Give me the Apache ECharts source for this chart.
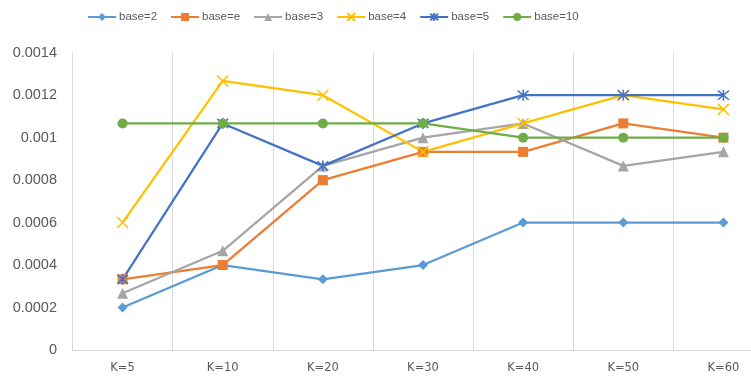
<!DOCTYPE html>
<html>
<head>
<meta charset="utf-8">
<script src="https://cdn.jsdelivr.net/npm/echarts@6/dist/echarts.min.js"></script>
<style>
  html, body { margin: 0; padding: 0; background: #fff; overflow: hidden; }
  /* the canvas is wider than the page so the last column runs off the right edge */
  #chart { width: 800px; height: 378px; }
</style>
</head>
<body>
<div id="chart"></div>
<script>
// Categories along the x axis
const categories = ['K=5', 'K=10', 'K=20', 'K=30', 'K=40', 'K=50', 'K=60'];

// One array per logarithm base
const base2  = [0.0002,   0.0004,   0.000333, 0.0004,   0.0006,   0.0006,   0.0006];
const baseE  = [0.000333, 0.0004,   0.0008,   0.000933, 0.000933, 0.001067, 0.001];
const base3  = [0.000267, 0.000467, 0.000867, 0.001,    0.001067, 0.000867, 0.000933];
const base4  = [0.0006,   0.001267, 0.0012,   0.000933, 0.001067, 0.0012,   0.001133];
const base5  = [0.000333, 0.001067, 0.000867, 0.001067, 0.0012,   0.0012,   0.0012];
const base10 = [0.001067, 0.001067, 0.001067, 0.001067, 0.001,    0.001,    0.001];

// Y axis ticks
const yTicks = [0, 0.0002, 0.0004, 0.0006, 0.0008, 0.001, 0.0012, 0.0014];

const crossPath = 'path://M0,0L10,10M10,0L0,10';
const starPath  = 'path://M0,0L10,10M10,0L0,10M5,-1L5,11';

function makeSeries(name, data, color, symbol, size, stroked) {
  return {
    name: name,
    type: 'line',
    data: data,
    symbol: symbol,
    symbolSize: size,
    showAllSymbol: true,
    lineStyle: { color: color, width: 2.25 },
    itemStyle: stroked
      ? { color: 'rgba(0,0,0,0)', borderColor: color, borderWidth: 1.5 }
      : { color: color, borderColor: color, borderWidth: 0 },
    emphasis: { disabled: true },
    animation: false
  };
}

const chart = echarts.init(document.getElementById('chart'), null, { renderer: 'canvas' });

chart.setOption({
  backgroundColor: '#ffffff',
  animation: false,
  legend: {
    left: 87,
    top: 11,
    padding: 0,
    itemWidth: 28,
    itemHeight: 10,
    itemGap: 13,
    textStyle: {
      fontFamily: '"Liberation Sans", sans-serif',
      fontSize: 11.5,
      color: '#595959',
      padding: [0, 0, 0, -2]
    },
    data: ['base=2', 'base=e', 'base=3', 'base=4', 'base=5', 'base=10']
  },
  grid: {
    left: 72.5,
    width: 701,
    top: 52.7,
    bottom: 28,
    containLabel: false,
    outerBoundsMode: 'none'
  },
  xAxis: {
    type: 'category',
    data: categories,
    boundaryGap: true,
    axisLine: { show: true, lineStyle: { color: '#D9D9D9', width: 1 } },
    axisTick: { show: false },
    splitLine: { show: true, lineStyle: { color: '#D9D9D9', width: 1 } },
    axisLabel: {
      margin: 12,
      fontFamily: '"DejaVu Sans", sans-serif',
      fontSize: 11.5,
      color: '#595959'
    }
  },
  yAxis: {
    type: 'value',
    min: yTicks[0],
    max: yTicks[yTicks.length - 1],
    interval: 0.0002,
    axisLine: { show: false },
    axisTick: { show: false },
    splitLine: { show: false },
    axisLabel: {
      margin: 15.5,
      fontFamily: '"Liberation Sans", sans-serif',
      fontSize: 14.5,
      color: '#595959',
      formatter: function (v) { return String(Number(v.toFixed(6))); }
    }
  },
  series: [
    makeSeries('base=2',  base2,  '#5B9BD5', 'diamond',  10, false),
    makeSeries('base=e',  baseE,  '#ED7D31', 'rect',     10, false),
    makeSeries('base=3',  base3,  '#A5A5A5', 'triangle', 11, false),
    makeSeries('base=4',  base4,  '#FFC000', crossPath,  11, true),
    makeSeries('base=5',  base5,  '#4472C4', starPath,   11, true),
    makeSeries('base=10', base10, '#70AD47', 'circle',   10, false)
  ]
});
</script>
</body>
</html>
